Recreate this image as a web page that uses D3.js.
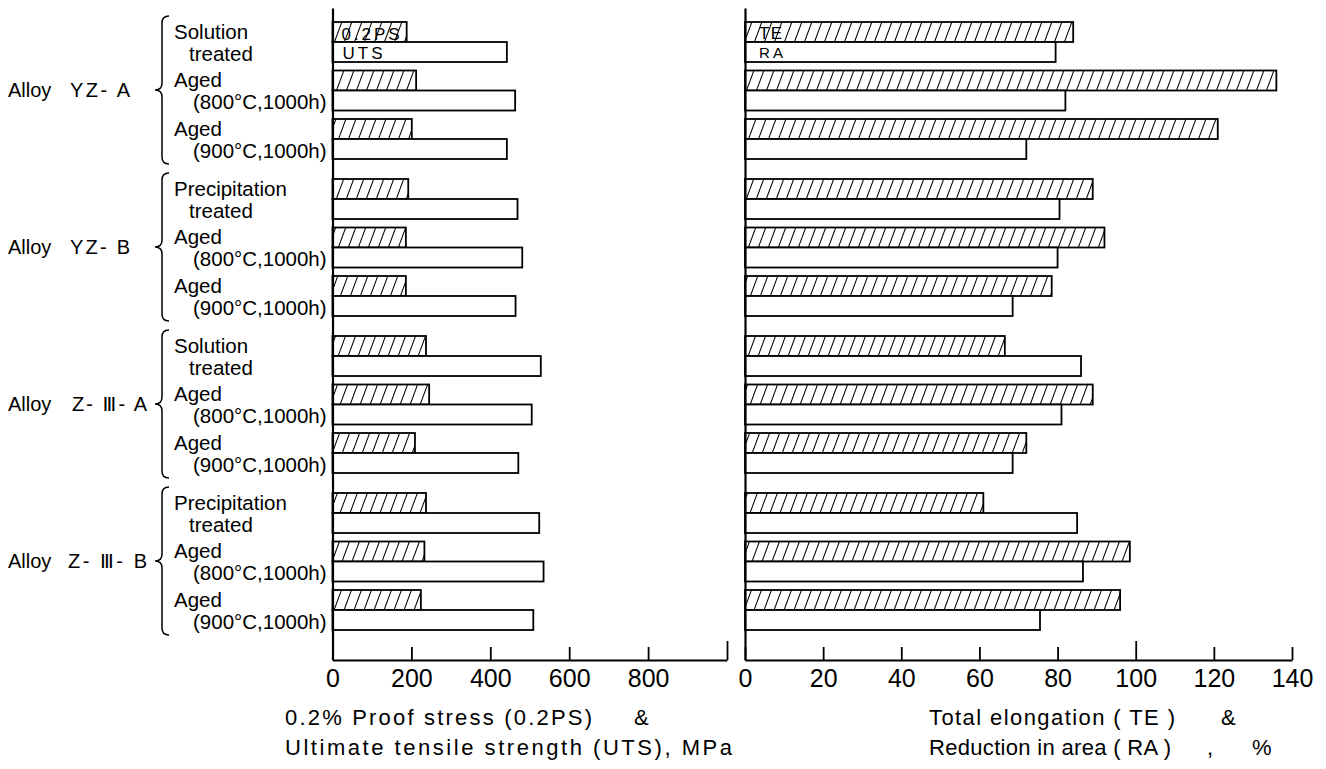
<!DOCTYPE html>
<html>
<head>
<meta charset="utf-8">
<script src="https://cdn.jsdelivr.net/npm/d3@7"></script>
<style>
  body { margin: 0; background: #fff; }
  text { font-family: "Liberation Sans", "DejaVu Sans", Arial, sans-serif; fill: #000; }
</style>
</head>
<body>
<svg id="chart" width="1326" height="769"></svg>
<script>
// Alloys and their heat-treatment conditions (two-line labels)
const alloys = ["YZ- A", "YZ- B", "Z- Ⅲ- A", "Z- Ⅲ- B"];
const conditionsYZA = [["Solution", "treated"], ["Aged", "(800°C,1000h)"], ["Aged", "(900°C,1000h)"]];
const conditionsYZB = [["Precipitation", "treated"], ["Aged", "(800°C,1000h)"], ["Aged", "(900°C,1000h)"]];
const conditionsZA  = [["Solution", "treated"], ["Aged", "(800°C,1000h)"], ["Aged", "(900°C,1000h)"]];
const conditionsZB  = [["Precipitation", "treated"], ["Aged", "(800°C,1000h)"], ["Aged", "(900°C,1000h)"]];
const conditionsByAlloy = [conditionsYZA, conditionsYZB, conditionsZA, conditionsZB];

// Tensile properties, one entry per alloy/condition (alloy-major order)
const proofStress = [188, 212, 201, 192, 186, 186, 237, 245, 209, 237, 233, 224];   // 0.2PS, MPa
const uts         = [442, 463, 442, 469, 481, 464, 528, 505, 471, 524, 535, 509];   // UTS, MPa
const elongation  = [84, 136, 121, 89, 92, 78.5, 66.5, 89, 72, 61, 98.5, 96];       // TE, %
const reduction   = [79.5, 82, 72, 80.5, 80, 68.5, 86, 81, 68.5, 85, 86.5, 75.5];   // RA, %

// Axis ticks
const stressTicks = [0, 200, 400, 600, 800, 1000];
const percentTicks = [0, 20, 40, 60, 80, 100, 120, 140];

const svg = d3.select("#chart");
const baseY = 660, topY = 8;

const xL = d3.scaleLinear().domain([0, 1000]).range([332.5, 727]);
const xR = d3.scaleLinear().domain([0, 140]).range([745, 1292]);

const yGroup = d3.scaleBand().domain(d3.range(alloys.length)).range([22, 630]).paddingInner(0.1274);
const yCond = d3.scaleBand().domain([0, 1, 2]).range([0, yGroup.bandwidth()]).paddingInner(0.175);
const ySub = d3.scaleBand().domain(["upper", "lower"]).range([0, yCond.bandwidth()]);

// Hatch pattern for 0.2PS and TE bars
const defs = svg.append("defs");
const pat = defs.append("pattern").attr("id", "hatch")
  .attr("patternUnits", "userSpaceOnUse").attr("width", 10).attr("height", 27);
pat.append("rect").attr("width", 10).attr("height", 27).attr("fill", "#fff");
pat.append("path").attr("d", "M-10,27L0,0M0,27L10,0M10,27L20,0")
  .attr("stroke", "#000").attr("stroke-width", 1.05);

// Flattened rows
const rows = [];
alloys.forEach((a, gi) => {
  conditionsByAlloy[gi].forEach((c, ci) => {
    const i = gi * 3 + ci;
    rows.push({ gi, ci, label: c, top: yGroup(gi) + yCond(ci),
      ps: proofStress[i], uts: uts[i], te: elongation[i], ra: reduction[i] });
  });
});

function drawBars(x, upperKey, lowerKey) {
  const g = svg.append("g");
  g.selectAll("rect.up").data(rows).join("rect").attr("class", "up")
    .attr("x", x(0)).attr("y", d => d.top + ySub("upper"))
    .attr("width", d => x(d[upperKey]) - x(0)).attr("height", ySub.bandwidth())
    .attr("fill", "url(#hatch)").attr("stroke", "#000").attr("stroke-width", 1.8);
  g.selectAll("rect.low").data(rows).join("rect").attr("class", "low")
    .attr("x", x(0)).attr("y", d => d.top + ySub("lower"))
    .attr("width", d => x(d[lowerKey]) - x(0)).attr("height", ySub.bandwidth())
    .attr("fill", "#fff").attr("stroke", "#000").attr("stroke-width", 1.8);
}
drawBars(xL, "ps", "uts");
drawBars(xR, "te", "ra");

// Axes
function drawAxis(x, ticks, fmt, tall) {
  const g = svg.append("g").attr("transform", `translate(0,${baseY})`);
  g.call(d3.axisBottom(x).tickValues(ticks).tickFormat(fmt)
    .tickSizeInner(-13).tickSizeOuter(0).tickPadding(9));
  g.attr("font-family", null).attr("font-size", null);
  g.select(".domain").attr("stroke-width", 2.2);
  g.selectAll(".tick line").attr("stroke-width", 1.8)
    .attr("y2", d => tall.includes(d) ? -19 : -13);
  g.selectAll(".tick text").style("font-size", "25px");
  const vy = d3.scaleLinear().range([topY, baseY]);
  svg.append("g").attr("transform", `translate(${x(0)},0)`)
    .call(d3.axisLeft(vy).tickValues([]).tickSizeOuter(0))
    .select(".domain").attr("stroke-width", 2.2);
}
drawAxis(xL, stressTicks, d => d === 1000 ? "" : d, [1000]);
drawAxis(xR, percentTicks, d => d, [100]);

// In-bar legend texts
const r0 = rows[0];
function barText(str, x, y, size, len) {
  svg.append("text").attr("x", x).attr("y", y).style("font-size", size + "px")
    .attr("textLength", len).attr("lengthAdjust", "spacing").text(str);
}
barText("0.2PS", xL(0) + 9, r0.top + 18, 17, 58);
barText("UTS", xL(0) + 10, r0.top + 37, 17, 40);
barText("TE", xR(0) + 14, r0.top + 17, 17, 23);
barText("RA", xR(0) + 14, r0.top + 36, 15, 24);

// Condition labels
const lab = svg.append("g").style("font-size", "20.5px");
rows.forEach(r => {
  lab.append("text").attr("x", 174).attr("y", r.top + 17).text(r.label[0]);
  lab.append("text").attr("x", r.label[1].startsWith("(") ? 193 : 189)
    .attr("y", r.top + 39).text(r.label[1]);
});

// Braces and alloy names
const desigLen = [60, 60, 75, 79];
const desigX = [70, 70, 72, 68];
alloys.forEach((a, gi) => {
  const y0 = yGroup(gi) - 6, y1 = yGroup(gi) + yGroup.bandwidth() + 5, ym = (y0 + y1) / 2;
  const bx = 162, w = 7;
  svg.append("path")
    .attr("d", `M${bx + w},${y0}Q${bx},${y0} ${bx},${y0 + w}L${bx},${ym - w}Q${bx},${ym} ${bx - 7},${ym}` +
               `Q${bx},${ym} ${bx},${ym + w}L${bx},${y1 - w}Q${bx},${y1} ${bx + w},${y1}`)
    .attr("fill", "none").attr("stroke", "#000").attr("stroke-width", 1.5);
  svg.append("text").attr("x", 8).attr("y", ym + 7).style("font-size", "20px").text("Alloy");
  svg.append("text").attr("x", desigX[gi]).attr("y", ym + 7).style("font-size", "20px")
    .attr("textLength", desigLen[gi]).attr("lengthAdjust", "spacing").text(a);
});

// Axis titles
function title(str, x, y, len) {
  const t = svg.append("text").attr("x", x).attr("y", y).style("font-size", "22px").text(str);
  if (len) t.attr("textLength", len).attr("lengthAdjust", "spacing");
}
title("0.2% Proof stress (0.2PS)", 285, 725, 307);
title("&", 634, 725);
title("Ultimate tensile strength (UTS), MPa", 285, 755, 447);
title("Total elongation ( TE )", 929, 725, 246);
title("&", 1221, 725);
title("Reduction in area ( RA )", 929, 755, 242);
title(",", 1207, 755);
title("%", 1252, 755);
</script>
</body>
</html>
